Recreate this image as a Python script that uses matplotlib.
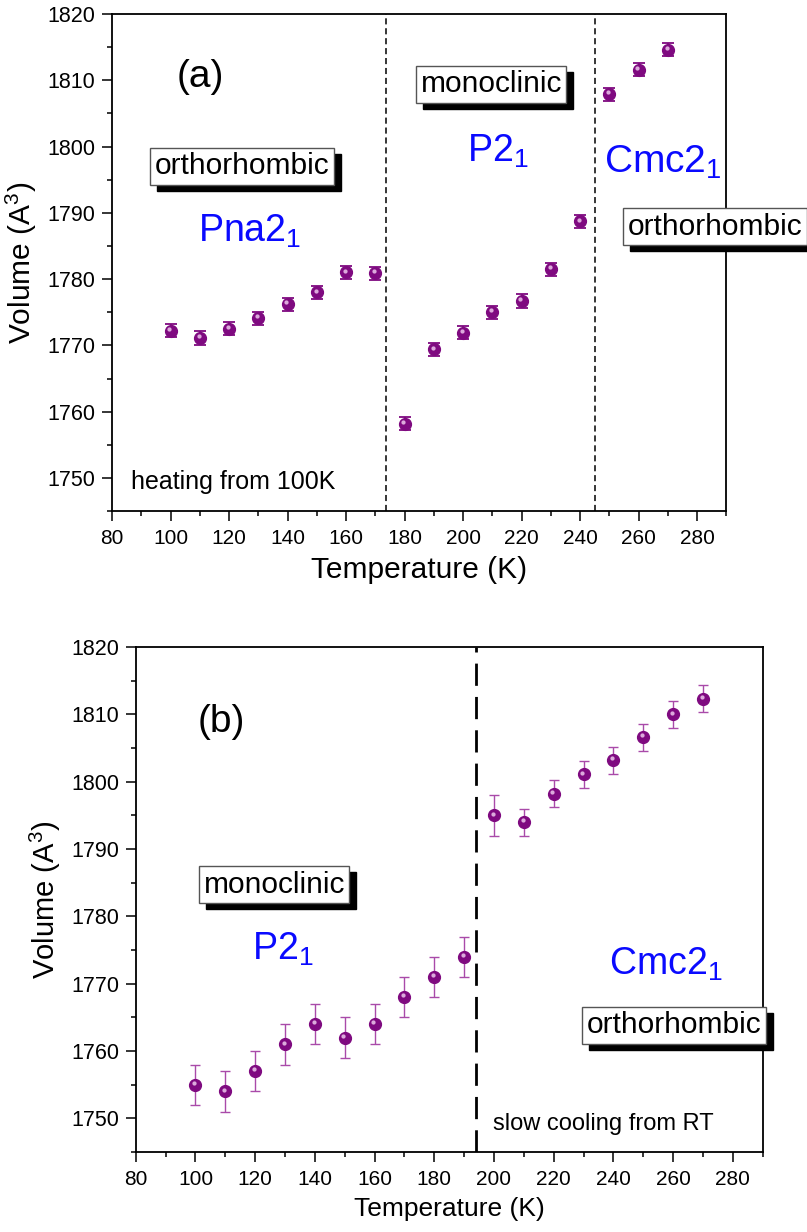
import matplotlib
matplotlib.use("Agg")
import matplotlib.pyplot as plt
import matplotlib.transforms as mtransforms
from matplotlib.ticker import MultipleLocator

plt.rcParams["font.family"] = ["Liberation Sans", "DejaVu Sans"]
plt.rcParams["mathtext.default"] = "regular"

# (a) heating from 100 K
temp_a = [100, 110, 120, 130, 140, 150, 160, 170, 180, 190, 200, 210, 220, 230, 240, 250, 260, 270]
vol_a = [1772.2, 1771.1, 1772.5, 1774.1, 1776.2, 1778.0, 1781.0, 1780.9,
         1758.2, 1769.4, 1771.9, 1775.0, 1776.7, 1781.5, 1788.7,
         1807.9, 1811.6, 1814.6]
err_a = [1.0] * len(temp_a)
bounds_a = [173.7, 245.1]

# (b) slow cooling from room temperature
temp_b = [100, 110, 120, 130, 140, 150, 160, 170, 180, 190, 200, 210, 220, 230, 240, 250, 260, 270]
vol_b = [1755.0, 1754.0, 1757.0, 1761.0, 1764.0, 1762.0, 1764.0, 1768.0, 1771.0, 1774.0,
         1795.0, 1794.0, 1798.2, 1801.1, 1803.2, 1806.6, 1810.0, 1812.3]
err_b = [3, 3, 3, 3, 3, 3, 3, 3, 3, 3, 3, 2, 2, 2, 2, 2, 2, 2]
bound_b = 194.0

PURPLE = "#7f0a80"
BLUE = "#0a0aff"

fig = plt.figure(figsize=(8.07, 12.32), dpi=100)
ax_a = fig.add_axes([0.1390, 0.5852, 0.9002 - 0.1390, 0.9886 - 0.5852])
ax_b = fig.add_axes([0.1682, 0.0649, 0.9450 - 0.1682, 0.4748 - 0.0649])


def style_axes(ax):
    ax.set_xlim(80, 290)
    ax.set_ylim(1745, 1820)
    ax.xaxis.set_major_locator(MultipleLocator(20))
    ax.xaxis.set_minor_locator(MultipleLocator(10))
    ax.yaxis.set_major_locator(MultipleLocator(10))
    ax.yaxis.set_minor_locator(MultipleLocator(5))
    ax.tick_params(which="both", direction="out", width=1.1)
    ax.tick_params(which="major", length=7)
    ax.tick_params(which="minor", length=3.5)
    ax.tick_params(axis="x", pad=6, labelsize=15)
    ax.tick_params(axis="y", pad=5, labelsize=15.5)
    for sp in ax.spines.values():
        sp.set_linewidth(1.3)


def spheres(ax, x, y, yerr, ms, capsize, ecolor, elw):
    ax.errorbar(x, y, yerr=yerr, fmt="none", ecolor=ecolor, elinewidth=elw,
                capsize=capsize, capthick=elw, zorder=3)
    ax.plot(x, y, "o", ms=ms, color=PURPLE, mec=PURPLE, zorder=4)
    hl = mtransforms.offset_copy(ax.transData, fig=fig, x=-1.3, y=1.8, units="dots")
    ax.plot(x, y, "o", ms=ms * 0.36, color="#dcaadc", mec="none", transform=hl, zorder=5)


def boxed(ax, x, y, s, ha="center"):
    shadow = mtransforms.offset_copy(ax.transData, fig=fig, x=7, y=-6, units="dots")
    ax.text(x, y, s, ha=ha, va="center", fontsize=21.5, color="black", transform=shadow,
            bbox=dict(boxstyle="square,pad=0.15", fc="black", ec="black", lw=1),
            zorder=6, clip_on=False)
    ax.text(x, y, s, ha=ha, va="center", fontsize=21.5, color="black",
            bbox=dict(boxstyle="square,pad=0.15", fc="white", ec="#555555", lw=1),
            zorder=7, clip_on=False)


# panel (a)
style_axes(ax_a)
spheres(ax_a, temp_a, vol_a, err_a, ms=8.5, capsize=4.2, ecolor=PURPLE, elw=1.3)
for b in bounds_a:
    ax_a.axvline(b, color="black", lw=1.1, ls=(0, (4, 2.5)), zorder=2)
ax_a.set_xlabel("Temperature (K)", fontsize=21.5, labelpad=6)
ax_a.set_ylabel("Volume (A$^3$)", fontsize=21.5, labelpad=6)
ax_a.text(110.0, 1810.5, "(a)", ha="center", va="center", fontsize=28)
boxed(ax_a, 124.3, 1797.0, "orthorhombic")
boxed(ax_a, 209.6, 1809.4, "monoclinic")
boxed(ax_a, 256.3, 1787.9, "orthorhombic", ha="left")
ax_a.text(109.3, 1785.6, "Pna2$_1$", color=BLUE, fontsize=27, ha="left", va="baseline")
ax_a.text(201.2, 1797.7, "P2$_1$", color=BLUE, fontsize=27, ha="left", va="baseline")
ax_a.text(248.0, 1796.0, "Cmc2$_1$", color=BLUE, fontsize=28, ha="left", va="baseline")
ax_a.text(86.3, 1748.3, "heating from 100K", fontsize=18, ha="left", va="baseline")

# panel (b)
style_axes(ax_b)
spheres(ax_b, temp_b, vol_b, err_b, ms=8.5, capsize=3.8, ecolor="#a94aa9", elw=1.0)
ax_b.axvline(bound_b, color="black", lw=2.0, ls=(0, (8, 4)), zorder=2)
ax_b.set_xlabel("Temperature (K)", fontsize=19, labelpad=6)
ax_b.set_ylabel("Volume (A$^3$)", fontsize=21, labelpad=6)
ax_b.text(108.8, 1808.8, "(b)", ha="center", va="center", fontsize=28)
boxed(ax_b, 126.4, 1784.7, "monoclinic")
boxed(ax_b, 260.3, 1763.8, "orthorhombic")
ax_b.text(119.0, 1773.5, "P2$_1$", color=BLUE, fontsize=27, ha="left", va="baseline")
ax_b.text(238.5, 1771.4, "Cmc2$_1$", color=BLUE, fontsize=27, ha="left", va="baseline")
ax_b.text(199.6, 1748.2, "slow cooling from RT", fontsize=17, ha="left", va="baseline")

fig.savefig("out.png", dpi=100, facecolor="white")
